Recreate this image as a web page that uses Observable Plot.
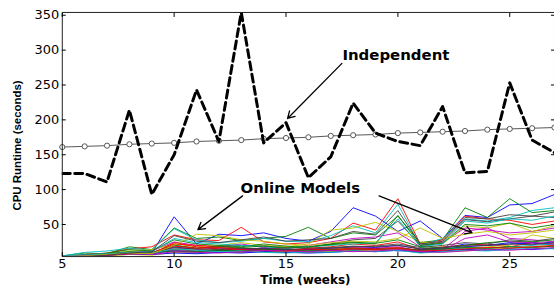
<!DOCTYPE html>
<html><head><meta charset="utf-8">
<script src="https://cdn.jsdelivr.net/npm/d3@7"></script>
<script src="https://cdn.jsdelivr.net/npm/@observablehq/plot@0.6"></script>
<style>
html,body{margin:0;padding:0;background:#fff;overflow:hidden;}
#chart{width:554px;height:287px;overflow:hidden;}
</style></head><body><div id="chart"></div>
<script>
const weeks = [5,6,7,8,9,10,11,12,13,14,15,16,17,18,19,20,21,22,23,24,25,26,27];
const xTicks = [5,10,15,20,25];
const yTicks = [50,100,150,200,250,300,350];
const independent = [123,123,111,214,93,150,243,169,354,167,196,117,147,224,181,169,163,219,124,126,253,171,153];
const trend = [161,162,163,165,166,167,169,170,171,173,174,175,177,178,179,181,182,183,184,186,187,188,189];

const m01 = [4,6,8,10,9,61,22,36,34,38,30,26,40,74,62,40,55,30,63,60,78,80,93];
const m02 = [5,9,8,18,14,45,30,32,27,30,33,46,30,38,35,62,24,28,74,60,87,67,70];
const m03 = [4,7,9,15,18,35,28,27,46,25,22,24,30,52,42,87,22,28,62,58,56,50,55];
const m04 = [5,10,12,16,13,44,28,24,26,30,26,25,34,48,38,79,20,30,58,55,60,70,74];
const m05 = [4,5,7,10,12,25,20,18,22,17,15,20,25,30,32,38,18,24,45,42,38,40,45];
const m06 = [4,6,8,12,14,22,18,20,24,20,18,22,42,45,53,40,25,22,48,45,52,40,48];
const m07 = [4,5,6,9,10,20,16,18,20,19,17,18,22,28,30,55,20,25,57,54,58,62,60];
const m08 = [4,5,6,8,7,18,14,16,15,14,12,14,16,18,17,20,15,16,22,20,24,22,25];
const m09 = [4,6,9,14,12,28,22,20,18,22,19,17,22,25,22,63,20,23,50,48,52,45,50];
const m10 = [4,5,7,10,9,22,20,18,16,14,17,16,18,22,20,25,14,18,20,22,18,24,22];
const m11 = [5,7,8,10,11,30,24,22,20,18,16,18,20,22,24,58,18,22,55,52,58,56,62];
const m12 = [4,4,6,9,8,16,14,12,14,16,14,13,15,17,16,18,12,14,40,45,30,28,25];
const m13 = [4,5,7,9,10,15,13,14,12,11,10,12,14,16,15,14,10,12,16,18,20,35,30];
const m14 = [4,5,6,7,8,14,12,13,15,16,14,15,16,18,19,22,17,20,24,22,28,26,30];
const m15 = [4,4,6,8,9,12,10,12,14,15,13,14,12,14,16,12,14,15,18,20,22,24,20];
const m16 = [5,6,8,11,9,20,16,18,17,19,16,18,21,24,23,28,18,17,20,24,26,25,28];
const m17 = [4,5,7,9,8,24,18,15,13,12,11,13,14,16,15,17,13,15,14,16,18,17,19];
const m18 = [4,5,7,9,10,11,9,10,12,13,11,12,11,13,14,15,12,14,16,15,18,20,22];
const m19 = [4,6,7,10,9,13,11,12,10,11,12,10,12,14,13,15,11,13,30,35,25,24,22];
const m20 = [4,4,5,7,6,10,9,11,10,12,11,10,11,13,12,14,10,11,12,14,16,18,20];
const m21 = [4,6,8,10,9,17,15,14,16,15,13,16,17,19,18,20,15,17,19,20,22,21,24];
const m22 = [4,5,6,8,7,9,8,10,9,11,10,9,10,12,11,13,10,12,14,13,15,14,16];
const m23 = [4,5,7,9,10,12,11,13,12,14,13,12,14,15,14,16,13,15,17,16,18,17,19];
const m24 = [4,4,6,8,9,19,16,17,14,13,12,15,13,15,14,16,12,13,15,17,16,18,20];
const m25 = [5,6,8,10,9,15,13,11,12,10,9,11,10,12,11,13,9,11,13,12,14,16,15];
const m26 = [4,5,6,8,7,11,10,9,11,13,12,11,13,11,12,14,11,10,12,14,13,15,17];
const m27 = [4,5,7,9,8,20,36,34,28,26,22,20,24,26,25,30,45,30,36,40,35,38,42];
const m28 = [4,4,6,9,11,34,26,24,28,32,26,28,30,40,36,70,22,26,60,58,64,62,68];
const onlineSeries = [m01,m02,m03,m04,m05,m06,m07,m08,m09,m10,m11,m12,m13,m14,m15,m16,m17,m18,m19,m20,m21,m22,m23,m24,m25,m26,m27,m28];
const palette = ["#0000ff","#008000","#ff0000","#00bfbf","#bf00bf","#bfbf00","#404040"];

const labels = ["Independent","Online Models"];
const labelX = [17.52, 12.97];
const labelY = [292, 102];
const arrowX1 = [17.5, 13.06, 19.16];
const arrowY1 = [281, 91, 91];
const arrowX2 = [15.07, 11.06, 23.31];
const arrowY2 = [202, 42.6, 38.3];

const onlineRows = [];
onlineSeries.forEach((s, i) => s.forEach((v, j) => onlineRows.push({id: i, c: palette[i % palette.length], week: weeks[j], v})));
const indRows = weeks.map((w, j) => ({week: w, v: independent[j]}));
const trendRows = weeks.map((w, j) => ({week: w, v: trend[j]}));
const labelRows = labels.map((t, i) => ({t, x: labelX[i], y: labelY[i]}));
const arrowRows = arrowX1.map((x, i) => ({x1: x, y1: arrowY1[i], x2: arrowX2[i], y2: arrowY2[i]}));

const chart = Plot.plot({
  width: 556, height: 287,
  marginLeft: 62, marginRight: 0, marginTop: 12, marginBottom: 30,
  x: {domain: [5, 27], label: null},
  y: {domain: [4, 354], label: null},
  style: {fontFamily: "DejaVu Sans", fontSize: "13px", background: "white", color: "black"},
  marks: [
    Plot.line(onlineRows, {x: "week", y: "v", z: "id", stroke: "c", strokeWidth: 0.9, clip: true}),
    Plot.line(trendRows, {x: "week", y: "v", stroke: "#444", strokeWidth: 0.9}),
    Plot.dot(trendRows, {x: "week", y: "v", r: 2.6, stroke: "#444", fill: "white", strokeWidth: 0.9}),
    Plot.line(indRows, {x: "week", y: "v", stroke: "black", strokeWidth: 3, strokeDasharray: "8,4.5", clip: true}),
    Plot.arrow(arrowRows, {x1: "x1", y1: "y1", x2: "x2", y2: "y2", stroke: "black", strokeWidth: 1.3, headLength: 9}),
    Plot.text(labelRows, {x: "x", y: "y", text: "t", textAnchor: "start", fontWeight: "bold", fontSize: 15, fontFamily: "DejaVu Sans", fill: "black", style: "letter-spacing:2px"}),
    Plot.frame({stroke: "#222", strokeWidth: 1}),
    Plot.axisX({anchor: "bottom", ticks: xTicks, tickSize: -4, tickPadding: 6, label: null, fontSize: 13, style: "letter-spacing:1px"}),
    Plot.axisX({anchor: "top", ticks: xTicks, tickSize: -4, tickFormat: () => "", label: null}),
    Plot.axisY({anchor: "left", ticks: yTicks, tickSize: -4, tickPadding: 7, label: null, fontSize: 13, style: "letter-spacing:1px"}),
    Plot.axisY({anchor: "right", ticks: yTicks, tickSize: -4, tickFormat: () => "", label: null}),
    Plot.text(["CPU Runtime (seconds)"], {frameAnchor: "left", textAnchor: "middle", lineAnchor: "middle", dx: -45, dy: 11, rotate: -90, fontWeight: "bold", fontSize: 11.5, fontFamily: "Liberation Sans", fill: "black"}),
    Plot.text(["Time (weeks)"], {frameAnchor: "bottom", textAnchor: "middle", lineAnchor: "middle", dy: 24, dx: -3, fontWeight: "bold", fontSize: 12, fontFamily: "DejaVu Sans", fill: "black", style: "letter-spacing:3.3px"})
  ]
});
document.getElementById("chart").appendChild(chart);
</script></body></html>
